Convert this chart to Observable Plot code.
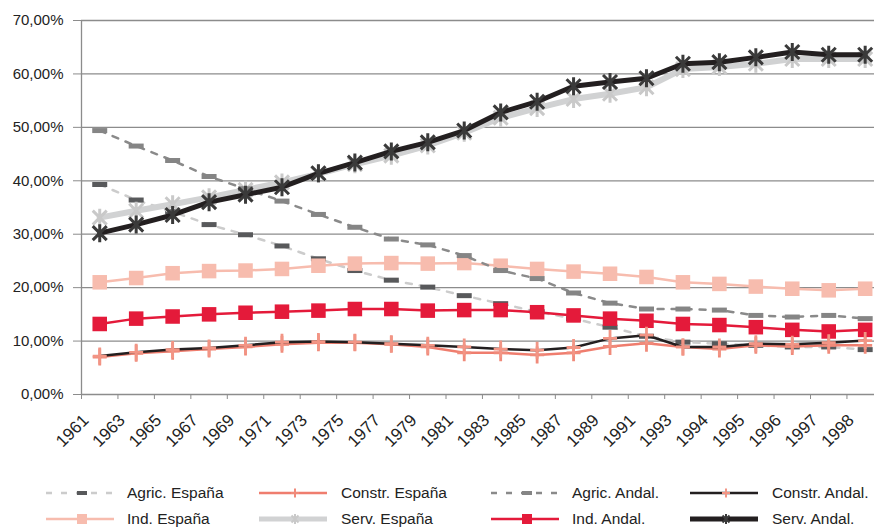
<!DOCTYPE html>
<html>
<head>
<meta charset="utf-8">
<script src="https://cdn.jsdelivr.net/npm/d3@7"></script>
<script src="https://cdn.jsdelivr.net/npm/@observablehq/plot@0.6"></script>
<style>
  html, body { margin: 0; padding: 0; background: #fff; }
  body { width: 874px; height: 528px; position: relative; overflow: hidden; font-family: "Liberation Sans", Arial, sans-serif; }
  #legend { position: absolute; left: 0; top: 0; width: 874px; height: 528px; pointer-events: none; }
  .lg { position: absolute; display: flex; align-items: center; font-size: 15.5px; color: #222; white-space: nowrap; }
  .lg svg { display: block; }
</style>
</head>
<body>
<div id="chart"></div>
<div id="legend"></div>
<script>
// ---- data (percent) ----
const years = ["1961","1963","1965","1967","1969","1971","1973","1975","1977","1979","1981","1983","1985","1987","1989","1991","1993","1994","1995","1996","1997","1998"];
const agricEspana = [39.3,36.4,34.2,31.8,29.9,27.8,25.4,23.2,21.4,20.1,18.5,17.0,15.5,14.2,12.6,10.9,9.8,9.5,9.2,8.9,8.9,8.4];
const constrEspana = [7.0,7.7,8.1,8.5,8.9,9.4,9.7,9.7,9.4,8.9,7.8,7.8,7.4,7.8,9.0,9.6,8.9,8.5,9.2,9.0,9.2,9.2];
const agricAndal = [49.4,46.5,43.8,40.8,38.5,36.2,33.7,31.3,29.1,28.0,26.0,23.2,21.7,19.0,17.1,16.0,16.0,15.8,14.8,14.5,14.8,14.2];
const constrAndal = [7.2,7.9,8.4,8.7,9.2,9.8,9.9,9.8,9.5,9.2,8.9,8.5,8.3,8.8,10.5,11.1,8.9,8.9,9.5,9.4,9.7,10.1];
const indEspana = [21.0,21.8,22.7,23.1,23.2,23.5,24.1,24.5,24.6,24.5,24.6,24.1,23.5,23.0,22.6,22.0,21.0,20.7,20.2,19.8,19.5,19.8];
const servEspana = [33.1,34.4,35.6,36.9,38.3,39.7,41.3,43.1,44.7,46.6,49.0,51.8,53.6,55.3,56.3,57.5,60.9,61.3,61.9,62.8,62.8,62.8];
const indAndal = [13.2,14.2,14.6,15.0,15.3,15.5,15.7,16.0,16.0,15.7,15.8,15.8,15.4,14.8,14.2,13.8,13.2,13.0,12.6,12.1,11.8,12.1];
const servAndal = [30.2,31.8,33.6,36.0,37.4,38.8,41.4,43.4,45.5,47.2,49.4,52.8,54.8,57.7,58.5,59.2,61.9,62.2,63.1,64.1,63.6,63.6];
const yTicks = [0,10,20,30,40,50,60,70];

// ---- custom marker symbols ----
const rectSym = {draw(ctx){ ctx.rect(-7.5,-2.5,15,5); }};
const plusSym = {draw(ctx){ ctx.moveTo(-7,0); ctx.lineTo(7,0); ctx.moveTo(0,-8.5); ctx.lineTo(0,8.5); }};
const starSym = {draw(ctx){ ctx.moveTo(0,-9); ctx.lineTo(0,9); ctx.moveTo(-7,-7); ctx.lineTo(7,7); ctx.moveTo(-7,7); ctx.lineTo(7,-7); }};

const series = [
  {name:"Agric. España", values:agricEspana, line:"#cccccc", w:2.5, dash:"6,8", m:"rect", mc:"#58595b"},
  {name:"Ind. España", values:indEspana, line:"#f7bcae", w:2.5, dash:null, m:"square", mc:"#f7bcae"},
  {name:"Constr. España", values:constrEspana, line:"#ef7d6e", w:2.5, dash:null, m:"plus", mc:"#f08a7a"},
  {name:"Serv. España", values:servEspana, line:"#d1d2d3", w:6, dash:null, m:"star", mc:"#c9c9c9"},
  {name:"Agric. Andal.", values:agricAndal, line:"#8a8a8a", w:2.5, dash:"6,8", m:"rect", mc:"#858585"},
  {name:"Ind. Andal.", values:indAndal, line:"#e41a3a", w:2.5, dash:null, m:"square", mc:"#e41a3a"},
  {name:"Constr. Andal.", values:constrAndal, line:"#231f20", w:2.5, dash:null, m:"plus", mc:"#f29585"},
  {name:"Serv. Andal.", values:servAndal, line:"#231f20", w:5, dash:null, m:"star", mc:"#3a3a3a"}
];

const rows = s => s.values.map((v,i) => ({x: i + 0.5, y: v}));

const marks = [
  Plot.gridY(yTicks, {stroke:"#8c8c8c", strokeOpacity:1, strokeWidth:1.3}),
  Plot.ruleX([0], {stroke:"#8c8c8c", strokeWidth:1.3}),
  Plot.axisY(yTicks, {tickSize:8, tickPadding:10, stroke:"#8c8c8c", fill:"#222", tickFormat: d => d.toFixed(2).replace(".", ",") + "%", label:null}),
  Plot.axisX(d3.range(0, 22), {tickSize:5, stroke:"#8c8c8c", tickFormat: () => "", label:null}),
  Plot.axisX(years.map((_, i) => i + 0.5), {tickSize:0, tickPadding:10, tickRotate:-45, fontSize:17, dx:-14, dy:13, fill:"#222", tickFormat: d => years[Math.round(d - 0.5)], label:null})
];

for (const s of series) {
  const data = rows(s);
  marks.push(Plot.line(data, {x:"x", y:"y", stroke:s.line, strokeWidth:s.w, strokeDasharray:s.dash, curve:"linear"}));
  if (s.m === "rect") marks.push(Plot.dot(data, {x:"x", y:"y", symbol:rectSym, fill:s.mc, stroke:"none"}));
  else if (s.m === "square") marks.push(Plot.dot(data, {x:"x", y:"y", symbol:"square", r:8.2, fill:s.mc, stroke:"none"}));
  else if (s.m === "plus") marks.push(Plot.dot(data, {x:"x", y:"y", symbol:plusSym, fill:"none", stroke:s.mc, strokeWidth:2.8}));
  else marks.push(Plot.dot(data, {x:"x", y:"y", symbol:starSym, fill:"none", stroke:s.mc, strokeWidth:3}));
}

const chart = Plot.plot({
  width: 874,
  height: 468,
  marginTop: 20,
  marginBottom: 74,
  marginLeft: 81,
  marginRight: 0,
  x: {type:"linear", domain:[0, (874 - 81) / 36.45], axis:null},
  y: {domain:[0, 70], axis:null},
  style: {fontSize:"15px", fontFamily:'"Liberation Sans", Arial, sans-serif', color:"#222", background:"#fff", overflow:"visible"},
  marks
});
document.getElementById("chart").append(chart);

// ---- legend (HTML, below the SVG) ----
const legendOrder = ["Agric. España","Constr. España","Agric. Andal.","Constr. Andal.","Ind. España","Serv. España","Ind. Andal.","Serv. Andal."];
const colSwatchX = [46, 259, 491, 690];
const colTextX = [127, 341, 572, 772];
const rowY = [493, 519];
const legend = document.getElementById("legend");
legendOrder.forEach((name, k) => {
  const s = series.find(d => d.name === name);
  const col = k % 4, row = Math.floor(k / 4);
  const sw = 68;
  const cx = sw / 2 + 2;
  let marker = "";
  if (s.m === "rect") marker = `<rect x="${cx-5}" y="5" width="10" height="4" fill="${s.mc}"/>`;
  else if (s.m === "square") marker = `<rect x="${cx-5}" y="2" width="10" height="10" fill="${s.mc}"/>`;
  else if (s.m === "plus") marker = `<path d="M${cx-4},7H${cx+4}M${cx},2.5V11.5" stroke="${s.mc}" stroke-width="2"/>`;
  else marker = `<path d="M${cx},2V12M${cx-3.5},3.5L${cx+3.5},10.5M${cx-3.5},10.5L${cx+3.5},3.5" stroke="${s.mc}" stroke-width="2"/>`;
  const line = `<line x1="0" x2="${sw}" y1="7" y2="7" stroke="${s.line}" stroke-width="${Math.min(s.w, 5)}" ${s.dash ? `stroke-dasharray="6,9"` : ""}/>`;
  const div = document.createElement("div");
  div.className = "lg";
  div.style.left = colSwatchX[col] + "px";
  div.style.top = (rowY[row] - 9) + "px";
  div.innerHTML = `<svg width="${colTextX[col] - colSwatchX[col]}" height="14">${line}${marker}</svg><span>${name}</span>`;
  legend.append(div);
});
</script>
</body>
</html>
